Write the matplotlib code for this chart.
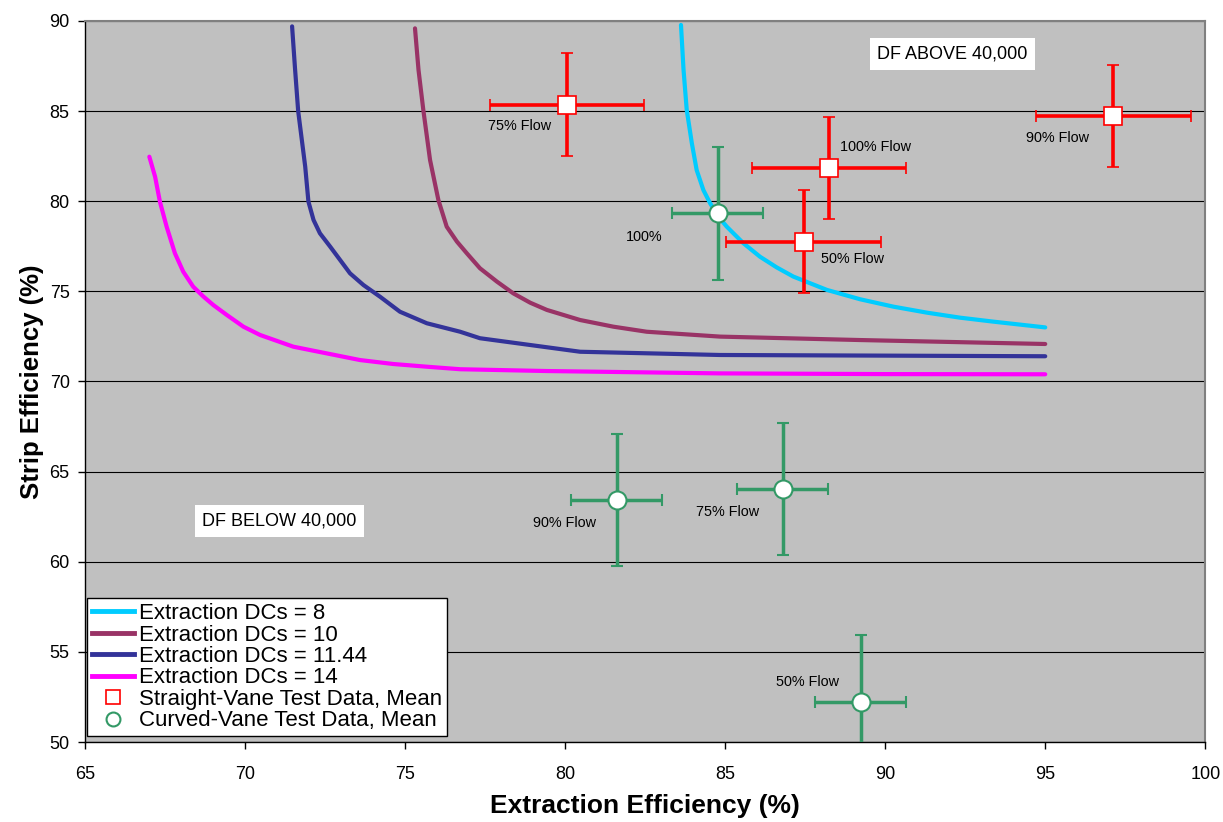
import matplotlib
matplotlib.use("Agg")
import matplotlib.pyplot as plt
from matplotlib.lines import Line2D

plt.rcParams["font.family"] = ["Liberation Sans", "DejaVu Sans"]

# model curves
dc8_x = [83.62, 83.70, 83.80, 83.96, 84.11, 84.32, 84.53, 84.79, 85.05, 85.57, 86.09,
         86.61, 87.13, 88.18, 89.22, 90.26, 91.30, 92.34, 93.38, 95.0]
dc8_y = [89.78, 87.28, 85.06, 83.21, 81.73, 80.62, 79.89, 79.14, 78.59, 77.67, 76.92,
         76.33, 75.82, 75.08, 74.56, 74.15, 73.82, 73.54, 73.32, 73.0]
dc10_x = [75.31, 75.42, 75.57, 75.78, 76.04, 76.30, 76.62, 76.93, 77.34, 77.87, 78.38,
          78.91, 79.43, 80.47, 81.51, 82.55, 84.84, 89.2, 95.0]
dc10_y = [89.59, 87.28, 85.06, 82.29, 80.07, 78.59, 77.76, 77.11, 76.28, 75.54, 74.89,
          74.37, 73.97, 73.41, 73.04, 72.76, 72.49, 72.3, 72.08]
dc1144_x = [71.47, 71.56, 71.66, 71.88, 71.98, 72.14, 72.34, 72.66, 72.97, 73.28, 73.70,
            74.22, 74.84, 75.68, 76.72, 77.34, 80.47, 84.84, 95.0]
dc1144_y = [89.7, 87.4, 85.0, 81.92, 79.98, 78.96, 78.22, 77.48, 76.74, 76.0, 75.35,
            74.7, 73.87, 73.23, 72.76, 72.4, 71.65, 71.47, 71.4]
dc14_x = [67.01, 67.19, 67.34, 67.55, 67.81, 68.07, 68.38, 68.70, 69.01, 69.43, 69.95,
          70.47, 71.51, 72.55, 73.59, 74.63, 75.68, 76.72, 79.43, 84.84, 90.0, 95.0]
dc14_y = [82.47, 81.36, 79.98, 78.59, 77.11, 76.09, 75.26, 74.71, 74.24, 73.69, 73.04,
          72.58, 71.93, 71.56, 71.19, 70.97, 70.82, 70.68, 70.58, 70.45, 70.41, 70.4]

# test data (mean +/- spread)
straight_x = [80.06, 88.24, 87.45, 97.13]
straight_y = [85.36, 81.86, 77.76, 84.73]
straight_xerr = [2.42, 2.41, 2.41, 2.41]
straight_yerr = [2.86, 2.84, 2.87, 2.85]
straight_labels = ["75% Flow", "100% Flow", "50% Flow", "90% Flow"]
straight_label_xy = [(77.6, 84.15), (88.6, 83.0), (88.0, 76.8), (94.4, 83.5)]

curved_x = [84.77, 81.61, 86.8, 89.24]
curved_y = [79.33, 63.43, 64.04, 52.24]
curved_xerr = [1.42, 1.43, 1.42, 1.42]
curved_yerr = [3.68, 3.67, 3.68, 3.7]
curved_labels = ["100%", "90% Flow", "75% Flow", "50% Flow"]
curved_label_xy = [(81.9, 78.0), (79.0, 62.15), (84.1, 62.78), (86.6, 53.35)]

fig = plt.figure(figsize=(12.23, 8.22), dpi=100)
ax = fig.add_axes([0.0695, 0.0973, 0.916, 0.8772])
ax.set_facecolor("#C0C0C0")

curves = [
    (dc8_x, dc8_y, "#00CCFF", "Extraction DCs = 8"),
    (dc10_x, dc10_y, "#993366", "Extraction DCs = 10"),
    (dc1144_x, dc1144_y, "#333399", "Extraction DCs = 11.44"),
    (dc14_x, dc14_y, "#FF00FF", "Extraction DCs = 14"),
]
handles = []
for xs, ys, color, label in curves:
    ax.plot(xs, ys, color=color, lw=3, solid_capstyle="round",
            solid_joinstyle="round", zorder=3)
    handles.append(Line2D([], [], color=color, lw=3.5, label=label))

ax.errorbar(straight_x, straight_y, xerr=straight_xerr, yerr=straight_yerr,
            fmt="s", ms=13, mfc="white", mec="red", mew=1.2,
            ecolor="red", elinewidth=2.6, capsize=4.5, capthick=2.6, zorder=5)
ax.errorbar(curved_x, curved_y, xerr=curved_xerr, yerr=curved_yerr,
            fmt="o", ms=13, mfc="white", mec="#339966", mew=1.5,
            ecolor="#339966", elinewidth=2.5, capsize=4.5, capthick=2.5, zorder=5)

for text, (tx, ty) in zip(straight_labels + curved_labels,
                          straight_label_xy + curved_label_xy):
    ax.text(tx, ty, text, fontsize=10.4, ha="left", va="center", zorder=6)

box = dict(boxstyle="square,pad=0.4", facecolor="white", edgecolor="none")
ax.text(89.75, 88.17, "DF ABOVE 40,000", fontsize=13, va="center", bbox=box, zorder=6)
ax.text(68.66, 62.26, "DF BELOW 40,000", fontsize=13, va="center", bbox=box, zorder=6)

handles.append(Line2D([], [], ls="none", marker="s", ms=10, mfc="white", mec="red",
                      mew=1.2, label="Straight-Vane Test Data, Mean"))
handles.append(Line2D([], [], ls="none", marker="o", ms=10, mfc="white", mec="#339966",
                      mew=1.5, label="Curved-Vane Test Data, Mean"))
leg = ax.legend(handles=handles, loc="lower left", bbox_to_anchor=(0.002, 0.008),
                borderaxespad=0, fontsize=16, labelspacing=0.02, handlelength=1.9,
                handletextpad=0.2, borderpad=0.22, fancybox=False, framealpha=1,
                edgecolor="black")
leg.get_frame().set_linewidth(1)
leg.set_zorder(10)

ax.set_xlim(65, 100)
ax.set_ylim(50, 90)
ax.set_xticks(range(65, 101, 5))
ax.set_yticks(range(50, 91, 5))
ax.yaxis.grid(True, color="black", lw=0.8)
ax.set_axisbelow(True)
ax.tick_params(axis="both", direction="out", length=5, width=1, labelsize=13)
ax.tick_params(axis="x", pad=12)
ax.tick_params(axis="y", pad=6)

for side in ("top", "right"):
    ax.spines[side].set_color("#808080")
    ax.spines[side].set_linewidth(1.5)
for side in ("left", "bottom"):
    ax.spines[side].set_color("black")
    ax.spines[side].set_linewidth(1)

ax.set_xlabel("Extraction Efficiency (%)", fontsize=19, fontweight="bold", labelpad=8)
ax.set_ylabel("Strip Efficiency (%)", fontsize=18.5, fontweight="bold", labelpad=4)

fig.savefig("out.png", dpi=100)
